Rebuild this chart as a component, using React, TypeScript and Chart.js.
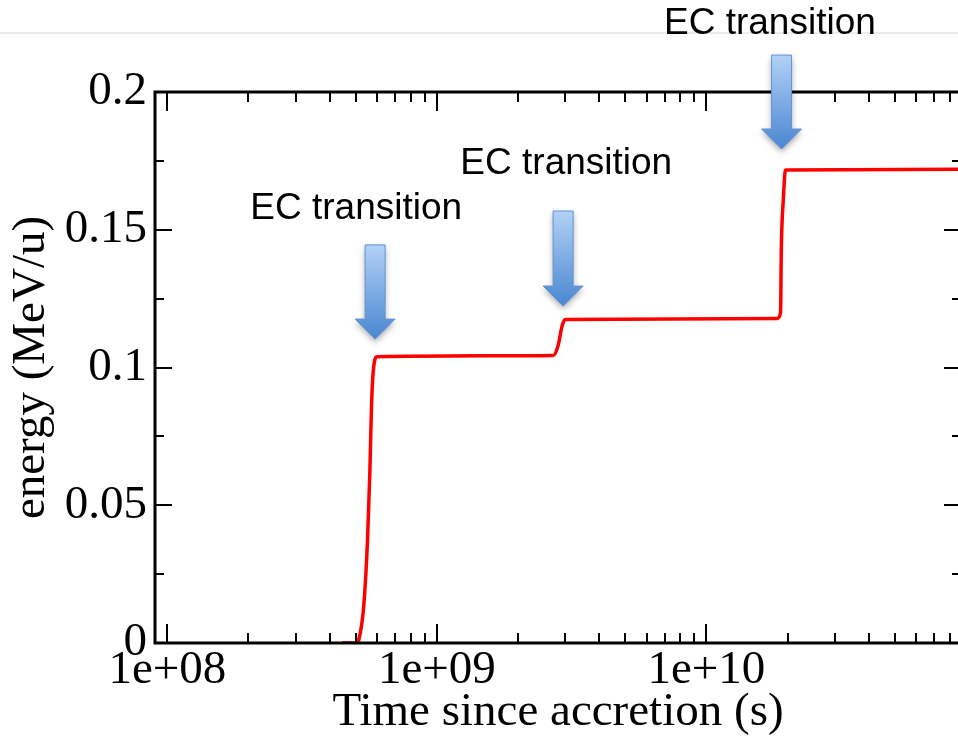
import React, { useEffect, useRef } from "react";
import { Chart, registerables } from "chart.js";

Chart.register(...registerables);

// ---- data ----
const times = [
  4.45e8, 5.03e8, 5.13e8, 5.35e8, 5.53e8, 5.64e8, 5.72e8, 5.8e8, 6.0e8,
  2.705e9, 2.82e9, 2.91e9, 2.99e9,
  1.831e10, 1.884e10, 1.896e10, 1.928e10, 1.966e10, 9.0e10,
];
const energy = [
  0, 0, 0.0011, 0.0131, 0.0374, 0.0617, 0.0857, 0.098, 0.1039,
  0.1044, 0.1082, 0.1148, 0.1174,
  0.1178, 0.12, 0.1427, 0.1608, 0.1717, 0.172,
];

const X_MIN = 9e7;
const X_MAX = 8.8e10;
const xTickValues = [1e8, 1e9, 1e10];
const xTickLabels = ["1e+08", "1e+09", "1e+10"];
const yTickValues = [0, 0.05, 0.1, 0.15, 0.2];
const yTickLabels = ["0", "0.05", "0.1", "0.15", "0.2"];
const yMinorStep = 0.025;

const arrowTimes = [5.9e8, 2.94e9, 1.9e10];
const arrowTopEnergy = [0.1445, 0.1568, 0.2134];
const arrowTipEnergy = [0.1103, 0.1223, 0.1793];

const labelTexts = ["EC transition", "EC transition", "EC transition"];
const labelTimes = [5.02e8, 3.02e9, 1.72e10];
const labelEnergy = [0.1576, 0.174, 0.2247];

const xTitle = "Time since accretion (s)";
const yTitle = "energy (MeV/u)";

const SERIF = "'Liberation Serif', 'Times New Roman', serif";
const SANS = "'Liberation Sans', Arial, Helvetica, sans-serif";

function drawArrow(ctx: CanvasRenderingContext2D, cx: number, yTop: number, yTip: number) {
  const shaftW = 20;
  const headW = 40;
  const headL = 20;
  const yHead = yTip - headL;
  ctx.save();
  ctx.beginPath();
  ctx.moveTo(cx - shaftW / 2, yTop);
  ctx.lineTo(cx + shaftW / 2, yTop);
  ctx.lineTo(cx + shaftW / 2, yHead);
  ctx.lineTo(cx + headW / 2, yHead);
  ctx.lineTo(cx, yTip);
  ctx.lineTo(cx - headW / 2, yHead);
  ctx.lineTo(cx - shaftW / 2, yHead);
  ctx.closePath();
  const g = ctx.createLinearGradient(0, yTop, 0, yTip);
  g.addColorStop(0, "#b3d1f7");
  g.addColorStop(1, "#4a86d1");
  ctx.shadowColor = "rgba(0,0,0,0.35)";
  ctx.shadowBlur = 6;
  ctx.shadowOffsetY = 3;
  ctx.fillStyle = g;
  ctx.fill();
  ctx.shadowColor = "transparent";
  ctx.strokeStyle = "#6393d4";
  ctx.lineWidth = 1;
  ctx.stroke();
  ctx.restore();
}

const decorPlugin = {
  id: "decor",
  beforeDraw(chart: any) {
    const { ctx, width } = chart;
    ctx.save();
    ctx.fillStyle = "#fff";
    ctx.fillRect(0, 0, width, chart.height);
    ctx.strokeStyle = "#e4e4e4";
    ctx.lineWidth = 1.5;
    ctx.beginPath();
    ctx.moveTo(0, 33);
    ctx.lineTo(width, 33);
    ctx.stroke();
    ctx.restore();
  },
  afterDatasetsDraw(chart: any) {
    const { ctx, chartArea, scales } = chart;
    const { left, right, top, bottom } = chartArea;
    const x = scales.x;
    const y = scales.y;
    ctx.save();
    ctx.strokeStyle = "#000";
    ctx.lineWidth = 2;
    ctx.beginPath();
    for (let e = 7; e <= 11; e++) {
      for (let m = 1; m <= 9; m++) {
        const v = m * Math.pow(10, e);
        if (v < x.min || v > x.max) continue;
        const px = Math.round(x.getPixelForValue(v));
        const len = m === 1 ? 19 : 10;
        ctx.moveTo(px, bottom);
        ctx.lineTo(px, bottom - len);
        ctx.moveTo(px, top);
        ctx.lineTo(px, top + len);
      }
    }
    const nMinor = Math.round((y.max - y.min) / yMinorStep);
    for (let i = 0; i <= nMinor; i++) {
      const v = y.min + i * yMinorStep;
      const major = i % 2 === 0;
      const py = Math.round(y.getPixelForValue(v));
      const len = major ? 17 : 9;
      ctx.moveTo(left, py);
      ctx.lineTo(left + len, py);
      ctx.moveTo(right, py);
      ctx.lineTo(right - len, py);
    }
    ctx.stroke();
    ctx.lineWidth = 3;
    ctx.strokeRect(left, top, right - left, bottom - top);
    ctx.restore();
  },
  afterDraw(chart: any) {
    const { ctx, scales } = chart;
    const x = scales.x;
    const y = scales.y;
    for (let i = 0; i < arrowTimes.length; i++) {
      drawArrow(
        ctx,
        x.getPixelForValue(arrowTimes[i]),
        y.getPixelForValue(arrowTopEnergy[i]),
        y.getPixelForValue(arrowTipEnergy[i])
      );
    }
    ctx.save();
    ctx.fillStyle = "#000";
    ctx.font = `37px ${SANS}`;
    ctx.textAlign = "center";
    ctx.textBaseline = "middle";
    for (let i = 0; i < labelTexts.length; i++) {
      ctx.fillText(labelTexts[i], x.getPixelForValue(labelTimes[i]), y.getPixelForValue(labelEnergy[i]));
    }
    ctx.restore();
  },
};

export default function App() {
  const ref = useRef<HTMLCanvasElement | null>(null);

  useEffect(() => {
    if (!ref.current) return;
    const chart = new Chart(ref.current, {
      type: "line",
      data: {
        datasets: [
          {
            data: times.map((t, i) => ({ x: t, y: energy[i] })),
            borderColor: "#ff0000",
            borderWidth: 3.5,
            pointRadius: 0,
            cubicInterpolationMode: "monotone",
            fill: false,
          },
        ],
      },
      options: {
        animation: false,
        responsive: false,
        devicePixelRatio: 1,
        layout: { padding: { top: 92, left: 0, right: 0, bottom: 0 } },
        plugins: {
          legend: { display: false },
          tooltip: { enabled: false },
        },
        scales: {
          x: {
            type: "logarithmic",
            position: "bottom",
            min: X_MIN,
            max: X_MAX,
            grid: { display: false, drawTicks: false },
            border: { display: false },
            afterBuildTicks: (s: any) => {
              s.ticks = xTickValues.map((v) => ({ value: v }));
            },
            afterFit: (s: any) => {
              s.height = 94;
            },
            ticks: {
              autoSkip: false,
              maxRotation: 0,
              padding: 4.5,
              color: "#000",
              font: { family: SERIF, size: 47, lineHeight: 1 },
              callback: (_v: any, i: number) => xTickLabels[i],
            },
            title: {
              display: true,
              text: xTitle,
              color: "#000",
              font: { family: SERIF, size: 47, lineHeight: 1 },
              padding: { top: 0, bottom: 1 },
            },
          },
          y: {
            type: "linear",
            position: "left",
            min: 0,
            max: 0.2,
            grid: { display: false, drawTicks: false },
            border: { display: false },
            afterBuildTicks: (s: any) => {
              s.ticks = yTickValues.map((v) => ({ value: v }));
            },
            afterFit: (s: any) => {
              s.width = 155;
            },
            ticks: {
              padding: 8,
              color: "#000",
              font: { family: SERIF, size: 47, lineHeight: 1 },
              callback: (_v: any, i: number) => yTickLabels[i],
            },
            title: {
              display: true,
              text: yTitle,
              color: "#000",
              font: { family: SERIF, size: 47, lineHeight: 1 },
              padding: { top: 8, bottom: 0 },
            },
          },
        },
      },
      plugins: [decorPlugin],
    } as any);
    return () => chart.destroy();
  }, []);

  return (
    <div
      style={{
        position: "fixed",
        left: 0,
        top: 0,
        width: 958,
        height: 737,
        overflow: "hidden",
        background: "#fff",
      }}
    >
      <canvas ref={ref} width={961} height={737} style={{ display: "block" }} />
    </div>
  );
}
